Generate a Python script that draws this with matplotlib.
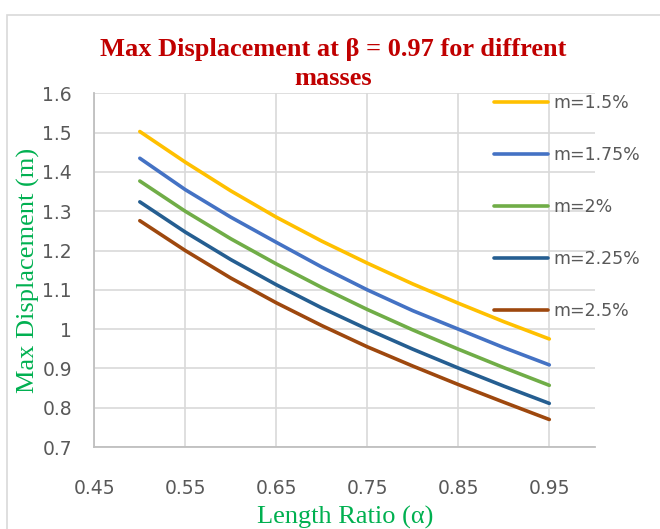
import matplotlib
matplotlib.use("Agg")
import matplotlib.pyplot as plt
from matplotlib.patches import Rectangle

# alpha values (length ratio)
alpha = [0.5, 0.55, 0.6, 0.65, 0.7, 0.75, 0.8, 0.85, 0.9, 0.95]

# max displacement for each mass ratio
m_150 = [1.503, 1.425, 1.352, 1.285, 1.224, 1.168, 1.115, 1.066, 1.019, 0.975]
m_175 = [1.435, 1.355, 1.285, 1.221, 1.158, 1.100, 1.047, 1.000, 0.953, 0.909]
m_200 = [1.377, 1.300, 1.230, 1.166, 1.106, 1.050, 0.998, 0.949, 0.902, 0.857]
m_225 = [1.324, 1.247, 1.177, 1.113, 1.054, 1.000, 0.949, 0.901, 0.855, 0.811]
m_250 = [1.276, 1.200, 1.130, 1.067, 1.009, 0.955, 0.906, 0.859, 0.814, 0.770]

labels = ["m=1.5%", "m=1.75%", "m=2%", "m=2.25%", "m=2.5%"]
colors = ["#FFC000", "#4472C4", "#70AD47", "#255E91", "#9E480E"]

x_ticks = [0.45, 0.55, 0.65, 0.75, 0.85, 0.95]
y_ticks = [0.7, 0.8, 0.9, 1.0, 1.1, 1.2, 1.3, 1.4, 1.5, 1.6]
y_ticklabels = ["0.7", "0.8", "0.9", "1", "1.1", "1.2", "1.3", "1.4", "1.5", "1.6"]

fig = plt.figure(figsize=(6.6, 5.29), dpi=100)
fig.patches.append(Rectangle((7 / 660, -0.1), 1.2, 1 - 14.6 / 529 + 0.1,
                             transform=fig.transFigure, fill=False,
                             edgecolor="#D9D9D9", linewidth=1.2))

ax = fig.add_axes([0.1429, 0.155, 0.7583, 0.6684])

for ys, lab, c in zip([m_150, m_175, m_200, m_225, m_250], labels, colors):
    ax.plot(alpha, ys, color=c, lw=2.6, label=lab, solid_capstyle="round")

ax.set_xlim(0.45, 1.0)
ax.set_ylim(0.7, 1.6)
ax.set_xticks(x_ticks)
ax.set_xticklabels([f"{t:.2f}" for t in x_ticks])
ax.set_yticks(y_ticks)
ax.set_yticklabels(y_ticklabels)
ax.grid(True, color="#D9D9D9", lw=1.2)
ax.set_axisbelow(True)
for s in ["top", "right"]:
    ax.spines[s].set_visible(False)
for s in ["left", "bottom"]:
    ax.spines[s].set_color("#BFBFBF")
    ax.spines[s].set_linewidth(1.3)
ax.tick_params(length=0, labelsize=13.5, labelcolor="#595959")
ax.tick_params(axis="y", pad=16)
ax.tick_params(axis="x", pad=23)

fig.text(0.505, 1 - 64 / 529, "Max Displacement at \u03b2 = 0.97 for diffrent\nmasses",
         ha="center", va="center", family="Liberation Serif", weight="bold",
         fontsize=19, color="#C00000", linespacing=1.3)
fig.text(28 / 660, 0.155 + 0.6684 / 2, "Max Displacement (m)",
         rotation=90, ha="center", va="center", family="Liberation Serif",
         fontsize=19, color="#00B050")
fig.text(0.5225, 1 - 517 / 529, "Length Ratio (\u03b1)", ha="center", va="center",
         family="Liberation Serif", fontsize=19, color="#00B050")

leg = ax.legend(loc="upper left", bbox_to_anchor=(0.785, 1.017), frameon=False,
                fontsize=12.5, handlelength=3.1, handletextpad=0.3,
                labelspacing=1.95, borderaxespad=0)
for t in leg.get_texts():
    t.set_color("#595959")
for h in leg.get_lines():
    h.set_linewidth(2.6)

fig.savefig("out.png", dpi=100)
